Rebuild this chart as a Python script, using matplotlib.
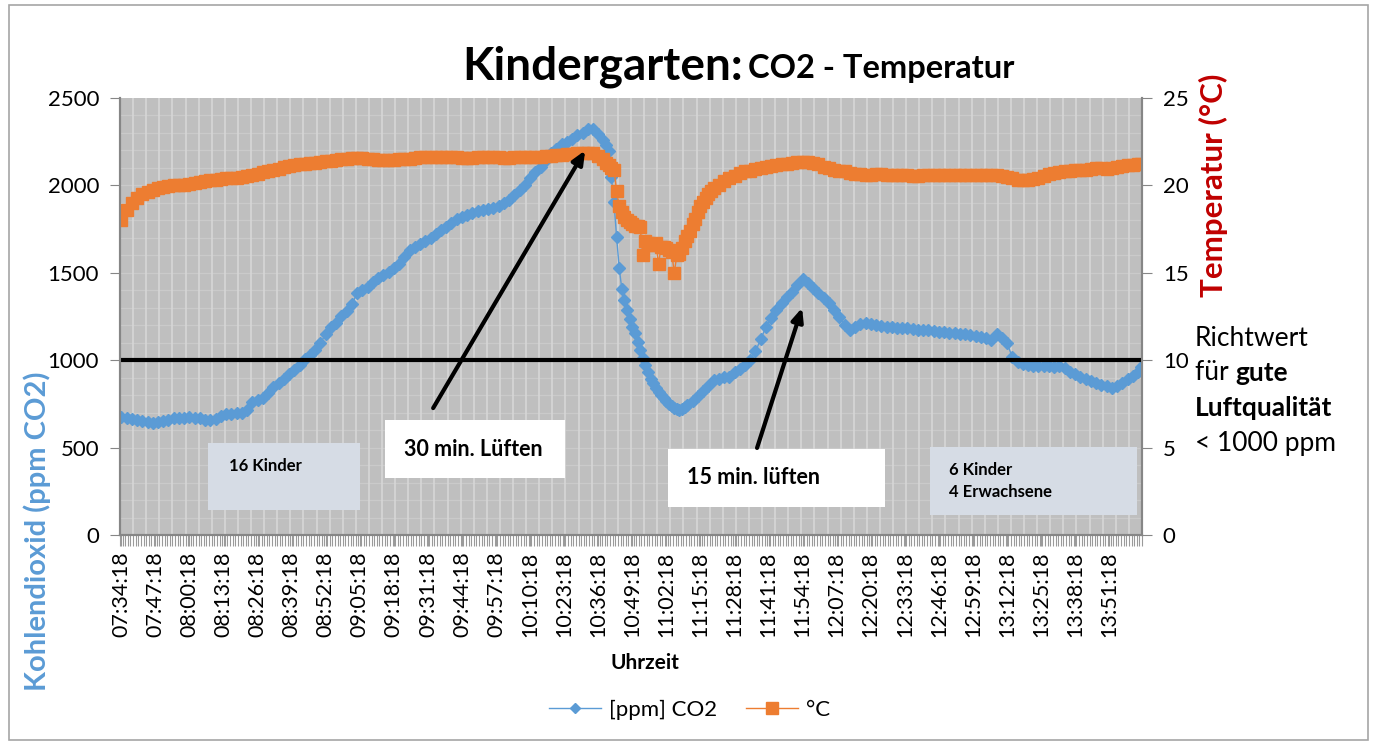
import numpy as np
import matplotlib
matplotlib.use("Agg")
import matplotlib.pyplot as plt
from matplotlib.patches import Rectangle
from matplotlib.lines import Line2D

plt.rcParams['font.family'] = ['Lato', 'DejaVu Sans']

# tick labels on the category axis (one category = one minute, from 07:34:18)
n_minutes = 390
time_labels = ["07:34:18", "07:47:18", "08:00:18", "08:13:18", "08:26:18", "08:39:18",
               "08:52:18", "09:05:18", "09:18:18", "09:31:18", "09:44:18", "09:57:18",
               "10:10:18", "10:23:18", "10:36:18", "10:49:18", "11:02:18", "11:15:18",
               "11:28:18", "11:41:18", "11:54:18", "12:07:18", "12:20:18", "12:33:18",
               "12:46:18", "12:59:18", "13:12:18", "13:25:18", "13:38:18", "13:51:18"]

# temperature [°C], sampled at these minutes
minute_t = np.r_[0:185:2, 185:227, 228:389:2, 389]
temp = [18.0, 18.6, 19.0, 19.3, 19.5, 19.65, 19.75, 19.85, 19.9, 19.95,
        20.0, 20.0, 20.05, 20.1, 20.15, 20.2, 20.25, 20.3, 20.3, 20.35,
        20.4, 20.4, 20.45, 20.5, 20.55, 20.6, 20.65, 20.75, 20.8, 20.9,
        20.95, 21.05, 21.1, 21.15, 21.2, 21.25, 21.3, 21.3, 21.35, 21.4,
        21.4, 21.45, 21.5, 21.5, 21.55, 21.55, 21.55, 21.5, 21.5, 21.45,
        21.45, 21.45, 21.45, 21.5, 21.5, 21.5, 21.55, 21.6, 21.6, 21.6,
        21.6, 21.6, 21.6, 21.6, 21.6, 21.55, 21.55, 21.55, 21.6, 21.6,
        21.6, 21.6, 21.6, 21.55, 21.55, 21.6, 21.6, 21.6, 21.6, 21.65,
        21.65, 21.7, 21.7, 21.75, 21.75, 21.8, 21.8, 21.85, 21.85, 21.85,
        21.85, 21.7, 21.5,
        21.3, 21.15, 21.0, 20.9, 19.7, 18.8, 18.5, 18.2, 18.0, 17.9,
        17.8, 17.7, 17.7, 17.6, 16.0, 16.8, 16.7, 16.6, 16.6, 16.7,
        15.5, 16.5, 16.5, 16.4, 16.3, 16.2, 15.0, 16.0, 16.1, 16.4,
        16.8, 17.1, 17.4, 17.8, 18.1, 18.5, 18.8, 19.05, 19.3, 19.5,
        19.7, 19.85,
        20.05, 20.25, 20.4, 20.55, 20.7, 20.8, 20.85, 20.95, 21.0, 21.05,
        21.1, 21.15, 21.2, 21.25, 21.3, 21.35, 21.35, 21.35, 21.3, 21.2,
        21.05, 21.0, 20.9, 20.85, 20.8, 20.7, 20.65, 20.65, 20.6, 20.6,
        20.65, 20.65, 20.6, 20.6, 20.6, 20.6, 20.6, 20.55, 20.55, 20.6,
        20.6, 20.6, 20.6, 20.6, 20.6, 20.6, 20.6, 20.6, 20.6, 20.6,
        20.6, 20.6, 20.6, 20.6, 20.55, 20.5, 20.4, 20.3, 20.3, 20.3,
        20.35, 20.45, 20.55, 20.65, 20.7, 20.75, 20.8, 20.85, 20.9, 20.9,
        20.9, 20.95, 21.0, 21.0, 20.95, 21.0, 21.05, 21.1, 21.15, 21.15,
        21.2,
        21.2]

# CO2 [ppm], sampled at these minutes
minute_c = np.r_[0:185:2, 185:216, 216:389:2, 389]
co2 = [675, 668, 665, 660, 655, 648, 640, 645, 650, 660,
       668, 670, 672, 673, 672, 668, 660, 658, 665, 680,
       690, 695, 698, 697, 715, 760, 775, 783, 810, 847,
       870, 895, 920, 944, 975, 1005, 1030, 1060, 1098, 1150,
       1190, 1215, 1255, 1280, 1320, 1384, 1400, 1420, 1445, 1470,
       1490, 1505, 1525, 1550, 1590, 1630, 1650, 1665, 1680, 1700,
       1720, 1745, 1762, 1785, 1805, 1820, 1830, 1840, 1855, 1862,
       1865, 1872, 1880, 1900, 1916, 1945, 1975, 2005, 2040, 2075,
       2105, 2145, 2185, 2210, 2235, 2250, 2265, 2288, 2300, 2320,
       2320, 2295, 2260,
       2230, 2195, 2050, 1905, 1705, 1527, 1407, 1344, 1287, 1236,
       1190, 1156, 1105, 1058, 1013, 975, 935, 895, 868, 840,
       818, 800, 782, 765, 752, 740, 728, 718, 715, 722, 732,
       744, 765, 795, 825, 855, 887, 895, 902, 905, 930,
       950, 975, 1000, 1050, 1120, 1190, 1240, 1287, 1330, 1362,
       1390, 1430, 1465, 1440, 1413, 1385, 1356, 1330, 1287, 1250,
       1200, 1175, 1190, 1205, 1213, 1205, 1200, 1195, 1190, 1188,
       1186, 1184, 1182, 1178, 1175, 1172, 1170, 1166, 1163, 1160,
       1158, 1156, 1152, 1148, 1144, 1138, 1132, 1125, 1118, 1150,
       1125, 1098, 1018, 990, 980, 972, 966, 965, 966, 965,
       962, 965, 958, 935, 920, 905, 892, 880, 870, 860,
       850, 840, 855, 872, 890, 910, 935,
       960]

richtwert = 1000

blue = '#5b9bd5'
orange = '#ed7d31'
axis_grey = '#868686'

fig = plt.figure(figsize=(13.74, 7.45), dpi=100)
W, H = 1374, 745
ax = fig.add_axes([120 / W, 1 - 535 / H, (1142 - 120) / W, (535 - 98) / H])
ax.set_facecolor('#bfbfbf')
ax2 = ax.twinx()

# gridlines
for gx in np.arange(4.5, n_minutes, 5):
    ax.axvline(gx, color='#d8d8d8', lw=1.1, zorder=0.5)
for gy in np.arange(100, 2500, 100):
    ax.axhline(gy, color='#cacaca', lw=0.9, zorder=0.4)

ax.plot(minute_c, co2, color=blue, lw=1, marker='D', ms=6.5, mec=blue, mfc=blue, zorder=2)
ax.axhline(richtwert, color='black', lw=3, zorder=3)
ax2.plot(minute_t, temp, color=orange, lw=1, marker='s', ms=8.5, mec=orange, mfc=orange, zorder=2)

ax.set_xlim(-0.5, n_minutes - 0.5)
ax.set_ylim(0, 2500)
ax2.set_ylim(0, 25)
ax.set_yticks(range(0, 2501, 500))
ax2.set_yticks(range(0, 26, 5))
ax.set_xticks(np.arange(0, n_minutes, 13))
ax.set_xticklabels(time_labels, rotation=90)
ax.set_xticks(np.arange(-0.5, n_minutes, 1), minor=True)

for a in (ax, ax2):
    for s in a.spines.values():
        s.set_color(axis_grey)
        s.set_linewidth(1.5)
    a.spines['top'].set_visible(False)
ax.tick_params(axis='y', labelsize=16, length=7, color=axis_grey, pad=8)
ax2.tick_params(axis='y', labelsize=16, length=7, color=axis_grey, pad=8)
ax.tick_params(axis='x', which='both', length=8, color='#9a9a9a', width=0.8, labelsize=15.5, pad=4)

# titles and axis labels
fig.text(462 / W, 1 - 79 / H, "Kindergarten:", fontsize=33, fontweight='bold', va='baseline')
fig.text(748 / W, 1 - 78 / H, "CO2 - Temperatur", fontsize=23.5, fontweight='bold', va='baseline')
fig.text(37 / W, 1 - 531 / H, "Kohlendioxid (ppm CO2)", rotation=90, fontsize=21,
         fontweight='bold', color=blue, ha='center', va='center')
fig.text(1213 / W, 1 - 185 / H, "Temperatur (°C)", rotation=90, fontsize=22.5,
         fontweight='bold', color='#c00000', ha='center', va='center')
fig.text(645 / W, 1 - 663 / H, "Uhrzeit", fontsize=15, fontweight='bold', ha='center', va='center')

# guideline note on the right
fs = 19
fig.text(1195 / W, 1 - 338 / H, "Richtwert", fontsize=fs, va='center')
t_fuer = fig.text(1195 / W, 1 - 373 / H, "für ", fontsize=fs, va='center')
ax2.annotate("gute", xy=(1, 0.5), xycoords=t_fuer, fontsize=fs, fontweight='bold',
             va='center', ha='left', annotation_clip=False)
fig.text(1195 / W, 1 - 408 / H, "Luftqualität", fontsize=fs, fontweight='bold', va='center')
fig.text(1195 / W, 1 - 443 / H, "< 1000 ppm", fontsize=fs, va='center')


# text boxes inside the plot (in data coordinates of the CO2 axis)
def box(x0, x1, y0, y1, color, lines, fsize, tx, ty):
    ax2.add_patch(Rectangle((x0, y0), x1 - x0, y1 - y0, transform=ax.transData,
                            facecolor=color, edgecolor='none', zorder=5))
    ax2.text(tx, ty, lines, transform=ax.transData, fontsize=fsize, fontweight='bold',
             va='center', ha='left', zorder=6, linespacing=1.5)


box(33, 91, 143, 526, '#d6dce5', "16 Kinder", 12, 41, 395)
box(100.5, 169.5, 326, 658, 'white', "30 min. Lüften", 15.5, 108, 490)
box(208.5, 291.5, 160, 492, 'white', "15 min. lüften", 15.5, 216, 330)
box(308.5, 387.5, 114, 503, '#d6dce5', "6 Kinder\n4 Erwachsene", 12, 316, 310)

arrow_style = dict(arrowstyle='-|>,head_length=0.8,head_width=0.35', color='black', lw=3,
                   shrinkA=0, shrinkB=0)
ax2.annotate("", xy=(177, 22.0), xytext=(119, 7.26), xycoords='data', textcoords='data',
             arrowprops=arrow_style, zorder=7)
ax2.annotate("", xy=(259.8, 13.0), xytext=(242.6, 4.98), xycoords='data', textcoords='data',
             arrowprops=arrow_style, zorder=7)

# legend below the plot
handles = [Line2D([], [], color=blue, lw=1, marker='D', ms=5),
           Line2D([], [], color=orange, lw=1, marker='s', ms=8)]
fig.legend(handles, ["[ppm] CO2", "°C"], loc='center', bbox_to_anchor=(690 / W, 1 - 710 / H),
           ncol=2, frameon=False, fontsize=16, handlelength=2.3, handletextpad=0.4,
           columnspacing=1.3)

# chart border
fig.patches.append(Rectangle((9 / W, 5 / H), (1368 - 9) / W, (740 - 5) / H,
                             transform=fig.transFigure, fill=False, edgecolor='#a6a6a6', lw=1.2))

fig.savefig("out.png", dpi=100)
